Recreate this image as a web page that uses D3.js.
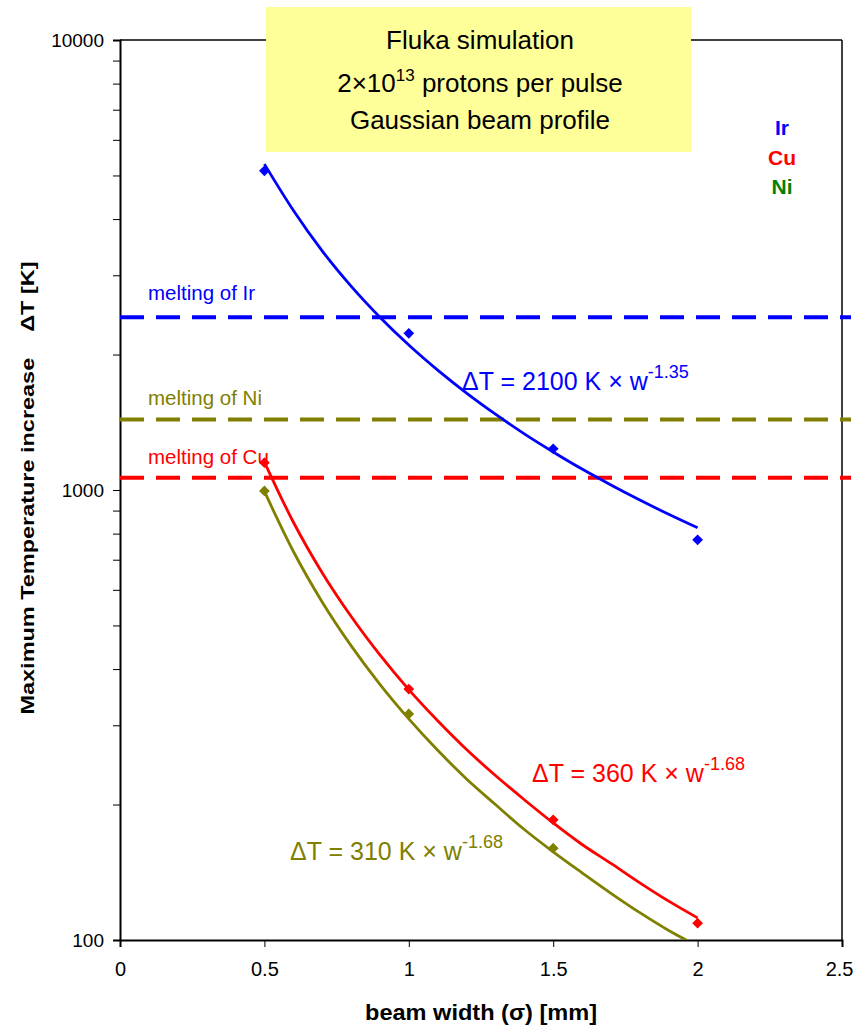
<!DOCTYPE html>
<html><head><meta charset="utf-8">
<script src="https://cdn.jsdelivr.net/npm/d3@7"></script>
<style>
body{margin:0;background:#fff;}
svg{display:block;font-family:Arial,"Liberation Sans",sans-serif;}
</style></head>
<body>
<svg id="chart" width="854" height="1026"></svg>
<script>
// ---- data ----
const widths = [0.5, 1.0, 1.5, 2.0];
const irValues = [5120, 2230, 1235, 775];
const cuValues = [1150, 361, 185, 109];
const niValues = [995, 318, 160, 95];
const fitWidths = [0.5,0.6,0.7,0.8,0.9,1.0,1.1,1.2,1.3,1.4,1.5,1.6,1.7,1.8,1.9,2.0];
const irFit = [5300,4185,3399,2838,2421,2100,1847,1642,1474,1333,1215,1113,1026,950,883,824];
const cuFit = [1154,849,655,524,430,360,307,265,232,205,182,163,148,134,122,112];
const niFit = [993,731,564,451,370,310,264,228,200,176,157,141,127,115,105,97];
const meltNames = ["Ir","Ni","Cu"];
const meltValues = [2420, 1435, 1065];
const xTicks = [0, 0.5, 1, 1.5, 2, 2.5];
const yMajorTicks = [100, 1000, 10000];

const svg = d3.select("#chart");
const L=120, R=842, T=40, B=940;
const x = d3.scaleLinear().domain([0,2.5]).range([L,R]);
const y = d3.scaleLog().domain([100,10000]).range([B,T]);

const BLUE="#0000ff", RED="#ff0000", OLIVE="#808000", GREEN="#008000";
const meltColors = {Ir:BLUE, Ni:OLIVE, Cu:RED};

svg.append("defs").append("clipPath").attr("id","clip")
  .append("rect").attr("x",L).attr("y",T).attr("width",R-L).attr("height",B-T);

// plot frame top/right
svg.append("line").attr("x1",L).attr("x2",R).attr("y1",T).attr("y2",T).attr("stroke","#000").attr("stroke-width",1.5);
svg.append("line").attr("x1",R).attr("x2",R).attr("y1",T).attr("y2",B).attr("stroke","#000").attr("stroke-width",1.5);
// title box
svg.append("rect").attr("x",266).attr("y",7).attr("width",425).attr("height",145).attr("fill","#ffff99");

svg.append("text").attr("text-anchor","middle").attr("font-size",26).attr("x",480).attr("y",49).text("Fluka simulation");
const t2 = svg.append("text").attr("text-anchor","middle").attr("font-size",26).attr("x",480).attr("y",92);
t2.append("tspan").text("2\u00d710");
t2.append("tspan").attr("font-size",17).attr("dy",-11).text("13");
t2.append("tspan").attr("dy",11).text(" protons per pulse");
svg.append("text").attr("text-anchor","middle").attr("font-size",26).attr("x",480).attr("y",129).text("Gaussian beam profile");

// axes
const yAxis = d3.axisLeft(y).tickValues(d3.range(2,4).flatMap(e=>d3.range(1,10).map(k=>k*Math.pow(10,e))).concat([10000]))
  .tickSize(7).tickFormat(d=> yMajorTicks.includes(d) ? d3.format("d")(d) : "");
const ga = svg.append("g").attr("transform",`translate(${L},0)`).call(yAxis);
ga.select(".domain").attr("stroke-width",2);
ga.selectAll("text").attr("font-size",19).attr("font-family","Arial, 'Liberation Sans', sans-serif").attr("fill","#000").attr("x",-16);

const xAxis = d3.axisBottom(x).tickValues(xTicks).tickSize(7).tickFormat(d=>d3.format("")(d));
const gx = svg.append("g").attr("transform",`translate(0,${B})`).call(xAxis);
gx.select(".domain").attr("stroke-width",2);
gx.selectAll("text").attr("font-size",20).attr("font-family","Arial, 'Liberation Sans', sans-serif").attr("fill","#000").attr("y",22);
gx.selectAll(".tick").filter(d=>d===2.5).select("text").attr("text-anchor","end").attr("x",11);

// axis titles
svg.append("text").attr("x",481).attr("y",1020).attr("text-anchor","middle")
  .attr("font-size",22).attr("font-weight","bold").attr("textLength",232).attr("lengthAdjust","spacingAndGlyphs")
  .text("beam width (\u03c3) [mm]");
svg.append("text").attr("transform","translate(34,488) rotate(-90)").attr("text-anchor","middle")
  .attr("font-size",19).attr("font-weight","bold").attr("xml:space","preserve")
  .attr("textLength",453).attr("lengthAdjust","spacingAndGlyphs")
  .text("Maximum Temperature increase    \u0394T [K]");

// melting lines
meltNames.forEach((n,i)=>{
  svg.append("line").attr("x1",L).attr("x2",851).attr("y1",y(meltValues[i])).attr("y2",y(meltValues[i]))
    .attr("stroke",meltColors[n]).attr("stroke-width",4).attr("stroke-dasharray","24,12");
});
const meltLabelY = {Ir:300, Ni:405, Cu:464};
meltNames.forEach(n=>{
  svg.append("text").attr("x",148).attr("y",meltLabelY[n]).attr("font-size",20.5).attr("fill",meltColors[n]).text("melting of "+n);
});

// fit curves
const line = d3.line().x(d=>x(d[0])).y(d=>y(d[1])).curve(d3.curveMonotoneX);
const plotG = svg.append("g").attr("clip-path","url(#clip)");
[[irFit,BLUE],[cuFit,RED],[niFit,OLIVE]].forEach(([vals,c])=>{
  plotG.append("path").datum(fitWidths.map((w,i)=>[w,vals[i]])).attr("d",line)
    .attr("fill","none").attr("stroke",c).attr("stroke-width",2.8);
});
// markers
[[irValues,BLUE],[cuValues,RED],[niValues,OLIVE]].forEach(([vals,c])=>{
  plotG.selectAll(null).data(widths.map((w,i)=>[w,vals[i]])).enter().append("rect")
    .attr("x",-3.8).attr("y",-3.8).attr("width",7.6).attr("height",7.6).attr("fill",c)
    .attr("transform",d=>`translate(${x(d[0])},${y(d[1])}) rotate(45)`);
});

// fit labels
function fitLabel(xp, yp, coef, expo, color){
  const t = svg.append("text").attr("x",xp).attr("y",yp).attr("font-size",25).attr("fill",color).attr("xml:space","preserve");
  t.append("tspan").text("\u0394T = "+coef+" K \u00d7 w");
  t.append("tspan").attr("font-size",18).attr("dy",-12).text(expo);
}
fitLabel(462, 390, "2100", "-1.35", BLUE);
fitLabel(532, 782, "360", "-1.68", RED);
fitLabel(290, 860, "310", "-1.68", OLIVE);

// legend
[["Ir",BLUE,135],["Cu",RED,165],["Ni",GREEN,194]].forEach(([n,c,yy])=>{
  svg.append("text").attr("x",782).attr("y",yy).attr("text-anchor","middle").attr("font-size",21)
    .attr("font-weight","bold").attr("fill",c).text(n);
});
</script>
</body></html>
